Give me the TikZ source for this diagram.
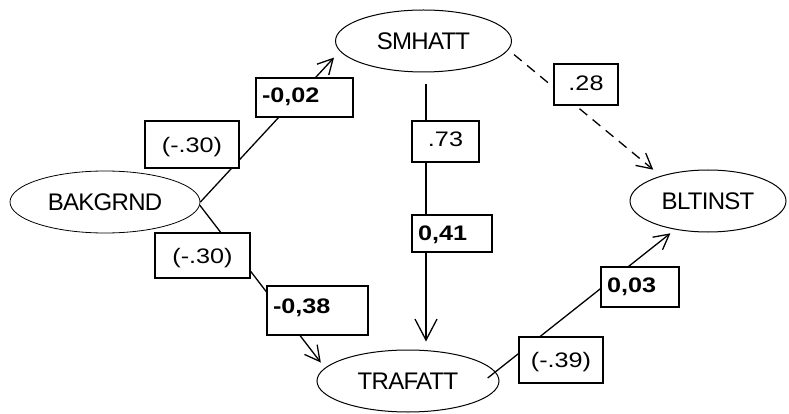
\documentclass[tikz,border=0pt]{standalone}
\usepackage{fontspec}
\setmainfont{Liberation Sans}
\newfontfamily\latentfont[LetterSpace=-3]{Liberation Sans}
\newfontfamily\coeffont[FakeStretch=1.2]{Liberation Sans}
\usetikzlibrary{arrows.meta,shapes.geometric,calc}

\begin{document}
\begin{tikzpicture}[x=1pt,y=-1pt,
  latent/.style={ellipse, draw, line width=1pt, inner sep=0pt, minimum height=62pt,
    font=\latentfont\fontsize{24}{27}\selectfont},
  link/.style={line width=1.3pt, -{Straight Barb[length=15pt,width=16pt,line width=1.3pt]}},
  coef/.style={rectangle, draw, fill=white, line width=1.8pt, inner xsep=0pt, inner ysep=0pt,
    minimum height=0pt, font=\coeffont\fontsize{21}{24}\selectfont},
  est/.style={coef, inner xsep=6pt, align=left, font=\coeffont\bfseries\fontsize{21}{24}\selectfont},
]
\useasboundingbox (0,0) rectangle (789,414);

% latent variables
\node[latent, minimum width=176pt] (smhatt)  at (423.5,41) {SMHATT};
\node[latent, minimum width=190pt, line width=0.8pt] (bakgrnd) at (105,202) {BAKGRND};
\node[latent, minimum width=156pt] (bltinst) at (708,201) {BLTINST};
\node[latent, minimum width=182pt] (trafatt) at (408,381) {TRAFATT};

% paths
\draw[link, shorten >=8.6pt] (bakgrnd.east) -- (smhatt.187);
\draw[link, shorten >=6.7pt] (bakgrnd.358) -- (trafatt.171);
\draw[link, -{Straight Barb[length=21pt,width=22pt,line width=1.3pt]}]
  ($(smhatt.south)+(2.5,12)$) -- ($(trafatt.north)+(18,-8)$);
\draw[link, shorten <=-10pt, shorten >=6pt] (trafatt.6) -- (bltinst.221);
\draw[link, dash pattern=on 10pt off 7pt, shorten <=7.3pt, shorten >=9.7pt]
  (smhatt.354) -- (bltinst.152);

% coefficient boxes
\node[est, text width=85pt, text height=25pt, text depth=14pt] (b02) at (304.5,97.5) {-0,02};
\node[coef, minimum width=94pt, text height=32pt, text depth=15pt] (b30a) at (192,144.5) {(-.30)};
\node[coef, minimum width=64pt, text height=26.7pt, text depth=14.3pt] (b28) at (586,84.5) {.28};
\node[coef, minimum width=67pt, text height=25.7pt, text depth=15.3pt] (b73) at (445.5,141.5) {.73};
\node[est, text width=68pt, text height=25pt, text depth=12pt] (b41) at (452,233.5) {0,41};
\node[coef, minimum width=95pt, text height=30.3pt, text depth=14.7pt] (b30b) at (202.5,255.5) {(-.30)};
\node[est, text width=89pt, text height=27pt, text depth=22pt] (b38) at (317.5,310.5) {-0,38};
\node[est, text width=66pt, text height=25pt, text depth=15pt] (b03) at (640,287) {0,03};
\node[coef, minimum width=84pt, text height=30pt, text depth=16pt] (b39) at (561,360) {(-.39)};
\end{tikzpicture}
\end{document}
